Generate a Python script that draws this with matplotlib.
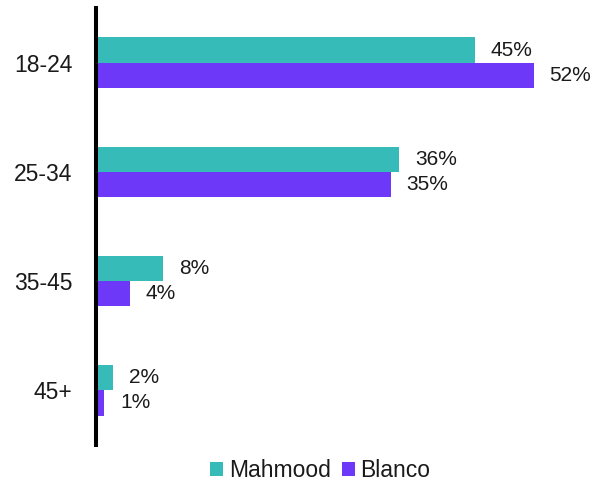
import matplotlib.pyplot as plt
import numpy as np

plt.rcParams['font.family'] = ['Liberation Sans', 'DejaVu Sans']

# data
ages = ['18-24', '25-34', '35-45', '45+']
mahmood = [45, 36, 8, 2]
blanco = [52, 35, 4, 1]
series_names = ['Mahmood', 'Blanco']
colors = ['#36BBB9', '#6E38F8']

fig = plt.figure(figsize=(5.95, 4.84), dpi=100)
ax = fig.add_axes([96 / 595, 1 - 445 / 484, 494 / 595, 437 / 484])

y = np.arange(len(ages))
h = 0.23
b1 = ax.barh(y - h / 2, mahmood, height=h, color=colors[0], label=series_names[0])
b2 = ax.barh(y + h / 2, blanco, height=h, color=colors[1], label=series_names[1])

# value labels
for bars, vals in [(b1, mahmood), (b2, blanco)]:
    for rect, v in zip(bars, vals):
        ax.annotate('%d%%' % v, (rect.get_width(), rect.get_y() + rect.get_height() / 2),
                    xytext=(11.5, 0), textcoords='offset points',
                    ha='left', va='center', fontsize=15, color='#1a1a1a')

ax.set_xlim(0, 58.7)
ax.set_ylim(3.5, -0.5)
ax.set_yticks(y)
ax.set_yticklabels(ages, fontsize=16.5, color='#1a1a1a')
ax.tick_params(axis='y', length=0, pad=17)
ax.set_xticks([])

for s in ['top', 'right', 'bottom']:
    ax.spines[s].set_visible(False)
ax.spines['left'].set_linewidth(2.9)
ax.spines['left'].set_color('black')

fig.legend(loc='center', bbox_to_anchor=(0.538, 0.027), ncol=2, frameon=False,
           fontsize=16.5, handlelength=0.57, handleheight=0.57,
           handletextpad=0.26, columnspacing=0.48, borderpad=0,
           labelcolor='#1a1a1a')

fig.savefig('out.png', dpi=100)
